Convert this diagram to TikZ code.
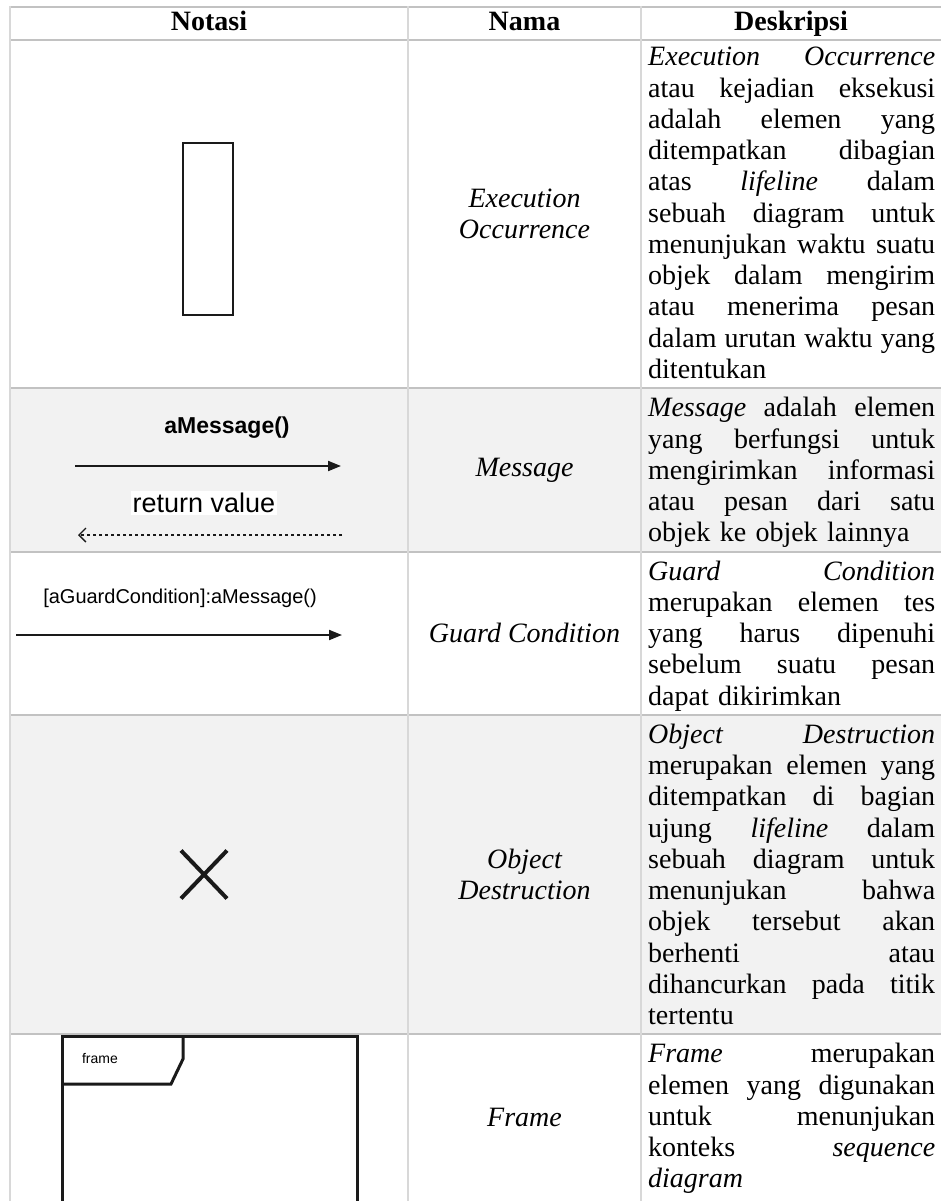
\documentclass[tikz,border=0pt]{standalone}
\usepackage{fontspec}
\setmainfont{Liberation Serif}
\newfontfamily\arialfont{Liberation Sans}
\usetikzlibrary{arrows.meta,shapes.misc}

\definecolor{gridline}{HTML}{C2C2C2}
\definecolor{gridlight}{HTML}{D8D8D8}
\definecolor{rowshade}{HTML}{F2F2F2}
\definecolor{ink}{HTML}{1A1A1A}

% one fully justified line of the description column
\newlength\desccolw
\setlength\desccolw{287pt}
\newcommand\jline[1]{\leavevmode\hbox to \desccolw{\spaceskip=0.25em plus 1fil\relax #1}}

\begin{document}
\begin{tikzpicture}[x=1pt,y=-1pt,
  head/.style={inner sep=0pt,anchor=base,font=\bfseries\fontsize{28}{31}\selectfont},
  namecell/.style={inner sep=0pt,align=center,font=\itshape\fontsize{28}{31.25}\selectfont},
  desc/.style={anchor=base west,inner sep=0pt,text width=\desccolw,align=left,
               font=\fontsize{28}{31.25}\selectfont},
  rowrule/.style={gridline,line width=2pt},
  colrule/.style={gridlight,line width=2pt},
  msgarrow/.style={ink,line width=2pt,-{Triangle[length=13pt,width=10pt]}},
  retarrow/.style={ink,line width=1.4pt,dash pattern=on 3.5pt off 2.5pt,
                   -{Straight Barb[length=7pt,width=14pt]}},
  umlline/.style={ink,line width=3pt}
]
\useasboundingbox (0,0) rectangle (941,1201);

% shaded rows
\fill[rowshade] (10,388) rectangle (941,551.5);
\fill[rowshade] (10,714.75) rectangle (941,1034.25);

% table rules
\draw[gridline,line width=2.6pt] (9,7) -- (941,7);
\draw[gridline,line width=1.6pt] (9,40) -- (941,40);
\foreach \yy in {388,551.5,714.75,1034.25}
  \draw[rowrule] (9,\yy) -- (941,\yy);
\draw[colrule] (10,6) -- (10,1201);
\draw[colrule] (408,6) -- (408,1201);
\draw[colrule] (641,6) -- (641,1201);

% header
\node[head] (hnotasi) at (209,31) {Notasi};
\node[head] (hnama)   at (524.5,31) {Nama};
\node[head] (hdesk)   at (791,31) {Deskripsi};

% ---- Execution Occurrence ----
\node[draw=ink,line width=2.6pt,minimum width=50pt,minimum height=172pt,inner sep=0pt] (exec) at (208,229) {};
\node[namecell] (nexec) at (524.5,214) {Execution\\Occurrence};
\node[desc] (dexec) at (648,66) {%
\jline{\textit{Execution} \textit{Occurrence}}\\
\jline{atau kejadian eksekusi}\\
\jline{adalah elemen yang}\\
\jline{ditempatkan dibagian}\\
\jline{atas \textit{lifeline} dalam}\\
\jline{sebuah diagram untuk}\\
\jline{menunjukan waktu suatu}\\
\jline{objek dalam mengirim}\\
\jline{atau menerima pesan}\\
\jline{dalam urutan waktu yang}\\
ditentukan};

% ---- Message ----
\node[inner sep=0pt,font=\arialfont\bfseries\fontsize{23}{23}\selectfont] (amsg) at (227,428) {aMessage()};
\coordinate (msgfrom) at (75,466);
\coordinate (msgto) at (341,466);
\draw[msgarrow] (msgfrom) -- (msgto);
\node[fill=white,inner sep=2pt,font=\arialfont\fontsize{27}{27}\selectfont] (retval) at (204,503) {return value};
\coordinate (retfrom) at (342,535);
\coordinate (retto) at (78,535);
\draw[retarrow] (retfrom) -- (retto);
\node[namecell] (nmsg) at (524.5,470) {Message};
\node[desc] (dmsg) at (648,416.75) {%
\jline{\textit{Message} adalah elemen}\\
\jline{yang berfungsi untuk}\\
\jline{mengirimkan informasi}\\
\jline{atau pesan dari satu}\\
objek ke objek lainnya};

% ---- Guard Condition ----
\node[inner sep=0pt,font=\arialfont\fontsize{20}{20}\selectfont] (guard) at (180,598) {[aGuardCondition]:aMessage()};
\coordinate (gfrom) at (16,635);
\coordinate (gto) at (342,635);
\draw[msgarrow] (gfrom) -- (gto);
\node[namecell] (nguard) at (524.5,633) {Guard Condition};
\node[desc] (dguard) at (648,580) {%
\jline{\textit{Guard} \textit{Condition}}\\
\jline{merupakan elemen tes}\\
\jline{yang harus dipenuhi}\\
\jline{sebelum suatu pesan}\\
dapat dikirimkan};

% ---- Object Destruction ----
\node[cross out,draw=ink,line width=4pt,minimum width=42pt,minimum height=44pt,inner sep=0pt] (destroy) at (204,874.5) {};
\node[namecell] (ndestroy) at (524.5,874.5) {Object\\Destruction};
\node[desc] (ddestroy) at (648,743.25) {%
\jline{\textit{Object} \textit{Destruction}}\\
\jline{merupakan elemen yang}\\
\jline{ditempatkan di bagian}\\
\jline{ujung \textit{lifeline} dalam}\\
\jline{sebuah diagram untuk}\\
\jline{menunjukan bahwa}\\
\jline{objek tersebut akan}\\
\jline{berhenti atau}\\
\jline{dihancurkan pada titik}\\
tertentu};

% ---- Frame ----
\coordinate (ftl) at (62,1036);
\coordinate (fbr) at (357,1215);
\draw[umlline] (ftl) rectangle (fbr);
\coordinate (tabtr) at (183,1036);
\coordinate (tabcut) at (183,1059);
\coordinate (tabbot) at (171,1084);
\coordinate (tableft) at (62,1084);
\draw[umlline] (tabtr) -- (tabcut) -- (tabbot) -- (tableft);
\node[inner sep=0pt,font=\arialfont\fontsize{14}{14}\selectfont] (flabel) at (100,1058) {frame};
\node[namecell] (nframe) at (524.5,1117) {Frame};
\node[desc] (dframe) at (648,1062.75) {%
\jline{\textit{Frame} merupakan}\\
\jline{elemen yang digunakan}\\
\jline{untuk menunjukan}\\
\jline{konteks \textit{sequence}}\\
\textit{diagram}};
\end{tikzpicture}
\end{document}
